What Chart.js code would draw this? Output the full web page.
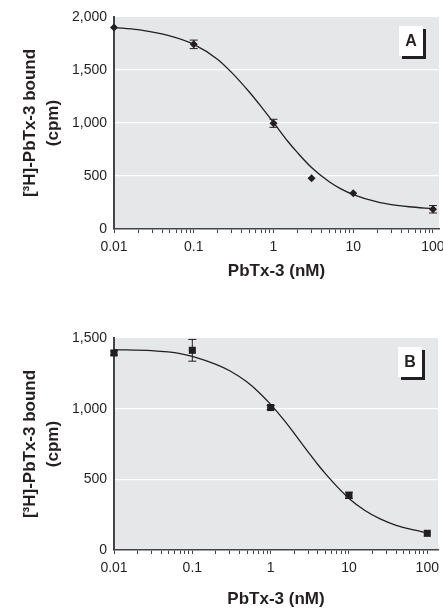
<!DOCTYPE html>
<html>
<head>
<meta charset="utf-8">
<script src="https://cdn.jsdelivr.net/npm/chart.js@4.4.0/dist/chart.umd.min.js"></script>
<style>
  html, body { margin: 0; padding: 0; background: #fff; }
  #wrap { position: relative; width: 443px; height: 610px; }
  .panel { position: absolute; left: 0; width: 443px; }
</style>
</head>
<body>
<div id="wrap">
  <div class="panel" style="top:0;height:300px"><canvas id="chart-a" width="443" height="300"></canvas></div>
  <div class="panel" style="top:300px;height:310px"><canvas id="chart-b" width="443" height="310"></canvas></div>
</div>
<script>
// x axis (log, nM)
const xTickLabels = [0.01, 0.1, 1, 10, 100];

// panel A: measured points + fitted curve
const concA = [0.01, 0.1, 1, 3, 10, 100];
const boundA = [1900, 1742, 997, 478, 337, 186];
const errA = [0, 40, 38, 0, 0, 35];
const fitConcA = [0.01, 0.02, 0.05, 0.1, 0.2, 0.3, 0.5, 0.7, 1, 1.5, 2, 3, 5, 7, 10, 20, 30, 50, 100];
const fitA = [1900, 1880, 1822, 1742, 1600, 1475, 1290, 1155, 1005, 830, 720, 580, 445, 378, 325, 255, 230, 210, 192];
const yTicksA = [0, 500, 1000, 1500, 2000];

// panel B
const concB = [0.01, 0.1, 1, 10, 100];
const boundB = [1394, 1413, 1008, 387, 118];
const errB = [15, 77, 15, 22, 0];
const fitConcB = [0.01, 0.03, 0.07, 0.1, 0.2, 0.3, 0.5, 0.7, 1, 1.5, 2, 3, 4, 5, 7, 10, 16, 25, 40, 70, 100];
const fitB = [1418, 1410, 1390, 1370, 1313, 1268, 1188, 1118, 1030, 915, 825, 695, 605, 540, 450, 365, 280, 220, 175, 140, 120];
const yTicksB = [0, 500, 1000, 1500];

const FONT = "'Liberation Sans', Arial, sans-serif";
const INK = "#231f20";
const AXIS = "#444446";
const PLOT_BG = "#e6e7e8";

function toPoints(xs, ys) {
  return xs.map((x, i) => ({ x, y: ys[i] }));
}

function xTicksWithMinor() {
  const ticks = [];
  xTickLabels.forEach((d, i) => {
    ticks.push({ value: d });
    if (i < xTickLabels.length - 1) {
      for (let m = 2; m <= 9; m++) ticks.push({ value: d * m });
    }
  });
  return ticks;
}

const plotBackground = {
  id: "plotBackground",
  beforeDraw(chart) {
    const { ctx, chartArea: a } = chart;
    ctx.save();
    ctx.fillStyle = PLOT_BG;
    ctx.fillRect(a.left, a.top, a.right - a.left, a.bottom - a.top);
    ctx.restore();
  },
};

const errorBars = {
  id: "errorBars",
  afterDatasetsDraw(chart) {
    const { ctx } = chart;
    const xs = chart.scales.x, ys = chart.scales.y;
    chart.data.datasets.forEach((ds) => {
      if (!ds.errors) return;
      ctx.save();
      ctx.strokeStyle = INK;
      ctx.lineWidth = 1;
      ds.data.forEach((p, i) => {
        const e = ds.errors[i];
        if (!e) return;
        const px = xs.getPixelForValue(p.x);
        const top = ys.getPixelForValue(p.y + e);
        const bot = ys.getPixelForValue(p.y - e);
        ctx.beginPath();
        ctx.moveTo(px, top); ctx.lineTo(px, bot);
        ctx.moveTo(px - 4, top); ctx.lineTo(px + 4, top);
        ctx.moveTo(px - 4, bot); ctx.lineTo(px + 4, bot);
        ctx.stroke();
      });
      ctx.restore();
    });
  },
};

const panelLabel = {
  id: "panelLabel",
  afterDraw(chart, args, opts) {
    const { ctx, chartArea: a } = chart;
    const w = 24, h = 30;
    const x0 = a.right - 40, y0 = a.top + 9;
    ctx.save();
    ctx.fillStyle = INK;
    ctx.fillRect(x0 + 3, y0 + 3, w, h);
    ctx.fillStyle = "#ffffff";
    ctx.fillRect(x0, y0, w, h);
    ctx.fillStyle = INK;
    ctx.font = "bold 16px " + FONT;
    ctx.textAlign = "center";
    ctx.textBaseline = "middle";
    ctx.fillText(opts.text, x0 + w / 2, y0 + h / 2 + 1);
    ctx.restore();
  },
};

function makeChart(id, p) {
  return new Chart(document.getElementById(id), {
    data: {
      datasets: [
        {
          type: "scatter",
          data: toPoints(p.conc, p.bound),
          errors: p.err,
          pointStyle: p.marker,
          pointRadius: p.markerRadius,
          pointBackgroundColor: INK,
          pointBorderColor: INK,
          pointBorderWidth: 0,
          clip: false,
          order: 0,
        },
        {
          type: "line",
          data: toPoints(p.fitConc, p.fit),
          borderColor: INK,
          borderWidth: 1.3,
          pointRadius: 0,
          fill: false,
          cubicInterpolationMode: "monotone",
          order: 1,
        },
      ],
    },
    options: {
      responsive: false,
      animation: false,
      layout: { padding: { top: p.padTop, right: 3, left: 0, bottom: 0 } },
      plugins: {
        legend: { display: false },
        tooltip: { enabled: false },
        panelLabel: { text: p.label },
      },
      scales: {
        x: {
          type: "logarithmic",
          min: 0.01,
          max: p.xMax,
          afterBuildTicks: (scale) => { scale.ticks = xTicksWithMinor(); },
          afterFit: (scale) => { scale.height = p.xAxisHeight; scale.paddingLeft = 0; scale.paddingRight = 0; },
          ticks: {
            autoSkip: false,
            maxRotation: 0,
            padding: 6,
            color: INK,
            font: { family: FONT, size: 14 },
            callback: (value) => (xTickLabels.includes(value) ? String(value) : ""),
          },
          grid: { drawOnChartArea: false, drawTicks: true, tickLength: 4, color: AXIS, lineWidth: 1 },
          border: { display: true, color: AXIS, width: 1.5 },
          title: {
            display: true,
            text: "PbTx-3 (nM)",
            color: INK,
            font: { family: FONT, size: 17, weight: "bold", lineHeight: 1.2 },
            padding: { top: 0, bottom: p.xTitlePad },
          },
        },
        y: {
          type: "linear",
          min: 0,
          max: p.yTicks[p.yTicks.length - 1],
          afterBuildTicks: (scale) => { scale.ticks = p.yTicks.map((v) => ({ value: v })); },
          afterFit: (scale) => { scale.width = 114; scale.paddingTop = 0; scale.paddingBottom = 0; },
          ticks: {
            padding: 7,
            color: INK,
            font: { family: FONT, size: 14 },
            callback: (value) => value.toLocaleString("en-US"),
          },
          grid: {
            drawTicks: false,
            lineWidth: 1.2,
            color: (c) => (c.tick && c.tick.value > 0 && c.tick.value < p.yTicks[p.yTicks.length - 1] ? "#ffffff" : "rgba(0,0,0,0)"),
          },
          border: { display: true, color: AXIS, width: 2 },
          title: {
            display: true,
            text: ["[³H]-PbTx-3 bound", "(cpm)"],
            color: INK,
            font: { family: FONT, size: 17, weight: "bold", lineHeight: 1.35 },
            padding: { top: 19, bottom: 0 },
          },
        },
      },
    },
    plugins: [plotBackground, errorBars, panelLabel],
  });
}

window.addEventListener("DOMContentLoaded", () => {
  makeChart("chart-a", {
    conc: concA, bound: boundA, err: errA, fitConc: fitConcA, fit: fitA,
    yTicks: yTicksA, marker: "rectRot", markerRadius: 4, label: "A",
    padTop: 17, xMax: 119, xAxisHeight: 71, xTitlePad: 18,
  });
  makeChart("chart-b", {
    conc: concB, bound: boundB, err: errB, fitConc: fitConcB, fit: fitB,
    yTicks: yTicksB, marker: "rect", markerRadius: 5, label: "B",
    padTop: 38, xMax: 137, xAxisHeight: 60, xTitlePad: 0,
  });
});
</script>
</body>
</html>
